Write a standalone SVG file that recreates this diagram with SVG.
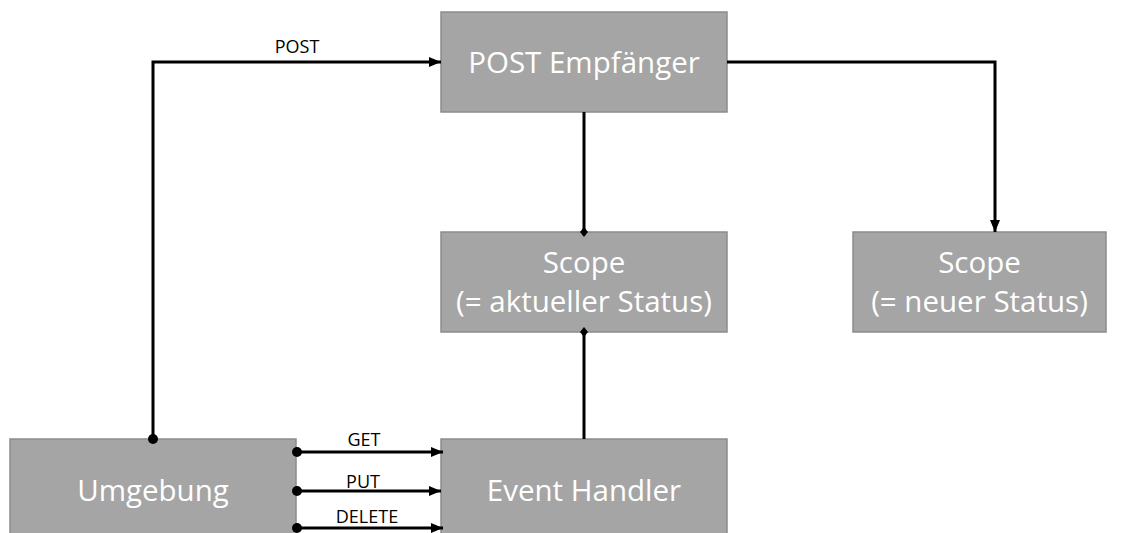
<svg xmlns="http://www.w3.org/2000/svg" width="1129" height="533" viewBox="0 0 1129 533">
<style>
.box{fill:#A5A5A5;stroke:#8C8C8C;stroke-width:1.5}
.t{font-family:"Open Sans","Liberation Sans",sans-serif;font-size:29.5px;fill:#FFFFFF;text-anchor:middle}
.l{font-family:"Open Sans","Liberation Sans",sans-serif;font-size:18px;fill:#000000;text-anchor:middle}
.c{fill:none;stroke:#000000;stroke-width:3}
</style>
<defs>
<marker id="arrow" viewBox="0 0 12 10" refX="12" refY="5" markerWidth="12" markerHeight="10" markerUnits="userSpaceOnUse" orient="auto">
<path d="M0,0 L12,5 L0,10 Z" fill="#000"/>
</marker>
<marker id="dot" viewBox="0 0 10 10" refX="5" refY="5" markerWidth="10" markerHeight="10" markerUnits="userSpaceOnUse" orient="auto">
<circle cx="5" cy="5" r="5" fill="#000"/>
</marker>
<marker id="diamond" viewBox="0 0 10 8" refX="5" refY="4" markerWidth="10" markerHeight="8" markerUnits="userSpaceOnUse" orient="auto">
<path d="M0,4 L5,0 L10,4 L5,8 Z" fill="#000"/>
</marker>
</defs>
<rect width="1129" height="533" fill="#FFFFFF"/>
<g id="node-post-empfaenger">
<rect class="box" x="441" y="12" width="286" height="100"/>
<text class="t" x="584" y="73">POST Empfänger</text>
</g>
<g id="node-scope-aktuell">
<rect class="box" x="441" y="232" width="286" height="100"/>
<text class="t" x="584" y="273">Scope</text>
<text class="t" x="584" y="312">(= aktueller Status)</text>
</g>
<g id="node-scope-neu">
<rect class="box" x="853" y="232" width="253" height="100"/>
<text class="t" x="979.5" y="273">Scope</text>
<text class="t" x="979.5" y="312">(= neuer Status)</text>
</g>
<g id="node-umgebung">
<rect class="box" x="10" y="439" width="286" height="100"/>
<text class="t" x="153" y="501">Umgebung</text>
</g>
<g id="node-event-handler">
<rect class="box" x="441" y="439" width="286" height="100"/>
<text class="t" x="584" y="501">Event Handler</text>
</g>
<g id="connectors">
<path class="c" d="M153,439 L153,62 L441,62" marker-start="url(#dot)" marker-end="url(#arrow)"/>
<text class="l" x="297" y="53">POST</text>
<path class="c" d="M727,62 L995,62 L995,232" marker-end="url(#arrow)"/>
<path class="c" d="M584,112 L584,232" marker-end="url(#diamond)"/>
<path class="c" d="M584,439 L584,332" marker-end="url(#diamond)"/>
<path class="c" d="M297,452 L443,452" marker-start="url(#dot)" marker-end="url(#arrow)"/>
<text class="l" x="364" y="446">GET</text>
<path class="c" d="M297,491 L441,491" marker-start="url(#dot)" marker-end="url(#arrow)"/>
<text class="l" x="363" y="488">PUT</text>
<path class="c" d="M297,528 L443,528" marker-start="url(#dot)" marker-end="url(#arrow)"/>
<text class="l" x="367" y="523">DELETE</text>
</g>
</svg>
